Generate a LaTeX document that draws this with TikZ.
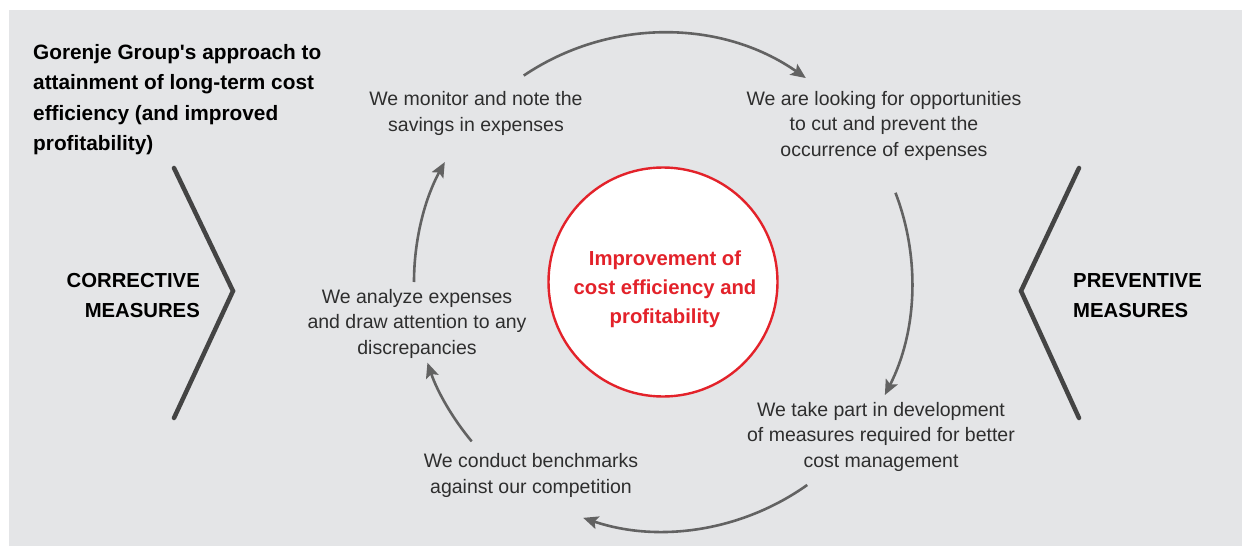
\documentclass[tikz,border=0pt]{standalone}
\usepackage{fontspec}
\setmainfont{Liberation Sans}
\newfontfamily\plainfont{Liberation Sans}
\usetikzlibrary{arrows.meta}
\definecolor{bgc}{HTML}{E4E5E7}
\definecolor{txt}{HTML}{2E2E2E}
\definecolor{redc}{HTML}{E3222A}
\definecolor{arrc}{HTML}{626262}
\definecolor{chev}{HTML}{444444}
\tikzset{
  body/.style={align=center, inner sep=0pt, text=txt, font=\fontsize{19.5}{25.5}\selectfont, anchor=base},
  boldlbl/.style={inner sep=0pt, text=black, font=\fontsize{20.3}{30}\selectfont\bfseries},
  flow/.style={draw=arrc, line width=2.6pt, -{Stealth[length=15pt,width=13pt,inset=3pt]}},
  chevline/.style={draw=chev, line width=4.5pt, line cap=round, line join=miter},
}
\begin{document}
\begin{tikzpicture}[x=1pt,y=1pt]
\useasboundingbox (0,0) rectangle (1242,-546);
\fill[bgc] (9,-10) rectangle (1242,-546);

% title (base anchor = last line's baseline)
\node[boldlbl, align=left, anchor=base west, font=\plainfont\fontsize{20.8}{30.5}\selectfont\bfseries] (title) at (33,-150.5)
  {Gorenje Group's approach to\\attainment of long-term cost\\efficiency (and improved\\profitability)};

% side labels
\node[boldlbl, align=right, anchor=base east] (corr) at (200,-317) {CORRECTIVE\\MEASURES};
\node[boldlbl, align=left, anchor=base west] (prev) at (1073,-317) {PREVENTIVE\\MEASURES};

% chevrons
\coordinate (lc1) at (174,-168);
\coordinate (lc2) at (233,-291);
\coordinate (lc3) at (174,-418);
\draw[chevline] (lc1) -- (lc2) -- (lc3);
\coordinate (rc1) at (1079,-168);
\coordinate (rc2) at (1021,-291);
\coordinate (rc3) at (1079,-418);
\draw[chevline] (rc1) -- (rc2) -- (rc3);

% centre circle
\coordinate (c) at (663,-282);
\node[circle, draw=redc, fill=white, line width=2.4pt, minimum size=229pt, inner sep=0pt] (core) at (c) {};
\node[align=center, inner sep=0pt, anchor=base, text=redc, font=\fontsize{20.3}{29}\selectfont\bfseries] (coretext) at (665,-323)
  {Improvement of\\cost efficiency and\\profitability};

% step texts
\node[body] (mon) at (476,-131) {We monitor and note the\\savings in expenses};
\node[body] (look) at (884,-156) {We are looking for opportunities\\to cut and prevent the\\occurrence of expenses};
\node[body] (take) at (881,-467) {We take part in development\\of measures required for better\\cost management};
\node[body] (bench) at (531,-493) {We conduct benchmarks\\against our competition};
\node[body] (anal) at (417,-354) {We analyze expenses\\and draw attention to any\\discrepancies};

% arrows on a ring around the centre
\path (c) ++(124:249pt) coordinate (a1);
\path (c) ++(21:249pt) coordinate (a2);
\path (c) ++(-54.6:249pt) coordinate (a3);
\path (c) ++(219.8:249pt) coordinate (a4);
\path (c) ++(180:249pt) coordinate (a5);
\draw[flow] (a1) arc[start angle=124, end angle=55, radius=249pt];
\draw[flow] (a2) arc[start angle=21, end angle=-27, radius=249pt];
\draw[flow] (a3) arc[start angle=-54.6, end angle=-108.7, radius=249pt];
\draw[flow] (a4) arc[start angle=219.8, end angle=198.9, radius=249pt];
\draw[flow] (a5) arc[start angle=180, end angle=151.2, radius=249pt];
\end{tikzpicture}
\end{document}
